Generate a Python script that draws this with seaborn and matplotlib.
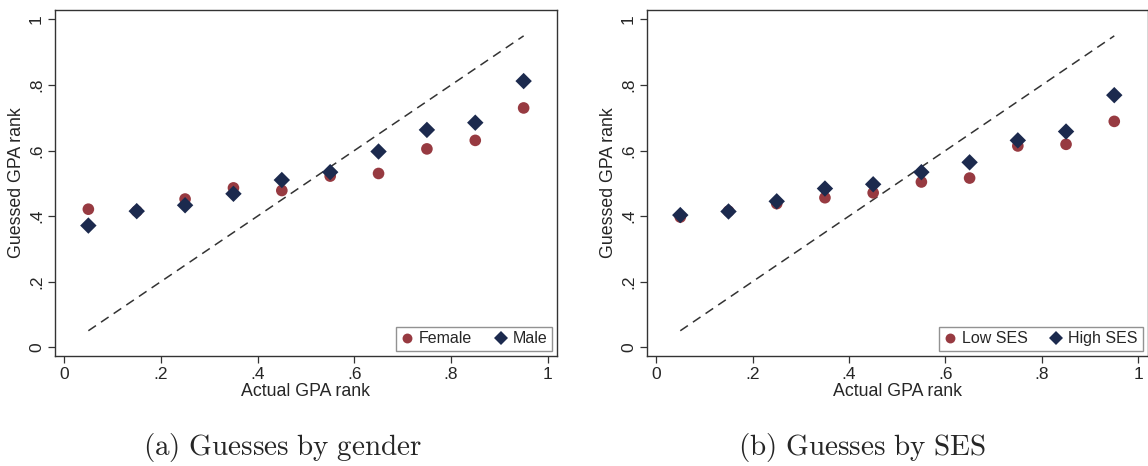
import numpy as np
import pandas as pd
import matplotlib
matplotlib.use("Agg")
import matplotlib.pyplot as plt
import seaborn as sns

sns.set_style("white")
plt.rcParams['font.family'] = ['Liberation Sans', 'DejaVu Sans']
plt.rcParams['mathtext.fontset'] = 'cm'

# Data
actual_rank = [0.05, 0.15, 0.25, 0.35, 0.45, 0.55, 0.65, 0.75, 0.85, 0.95]
female = [0.421, 0.415, 0.452, 0.486, 0.478, 0.522, 0.530, 0.605, 0.631, 0.730]
male = [0.371, 0.415, 0.433, 0.468, 0.510, 0.534, 0.597, 0.663, 0.685, 0.812]
low_ses = [0.397, 0.415, 0.438, 0.456, 0.471, 0.504, 0.516, 0.614, 0.619, 0.689]
high_ses = [0.403, 0.414, 0.445, 0.484, 0.497, 0.534, 0.564, 0.631, 0.658, 0.769]
diag = [0.05, 0.95]
tick_vals = [0, 0.2, 0.4, 0.6, 0.8, 1.0]
tick_labels = ["0", ".2", ".4", ".6", ".8", "1"]
captions = ["(a) Guesses by gender", "(b) Guesses by SES"]

RED = "#973a41"
NAVY = "#1c2a4e"

fig = plt.figure(figsize=(11.48, 4.66), dpi=100)
ax1 = fig.add_axes([0.0479, 0.2361, 0.4373, 0.7425])
ax2 = fig.add_axes([0.5636, 0.2361, 0.4360, 0.7425])

panels = [
    (ax1, female, male, "Female", "Male"),
    (ax2, low_ses, high_ses, "Low SES", "High SES"),
]

for i, (ax, s1, s2, n1, n2) in enumerate(panels):
    df = pd.DataFrame({
        "x": actual_rank * 2,
        "y": list(s1) + list(s2),
        "group": [n1] * len(s1) + [n2] * len(s2),
    })
    sns.lineplot(x=diag, y=diag, ax=ax, color="#333333", lw=1.1,
                 linestyle=(0, (6, 4)), legend=False)
    sns.scatterplot(data=df, x="x", y="y", hue="group", style="group",
                    palette={n1: RED, n2: NAVY},
                    markers={n1: "o", n2: "D"},
                    s=70, linewidth=0, ax=ax, zorder=3)
    ax.set_xlim(-0.019, 1.019)
    ax.set_ylim(-0.027, 1.029)
    ax.set_xticks(tick_vals)
    ax.set_xticklabels(tick_labels, fontsize=12.5)
    ax.set_yticks(tick_vals)
    ax.set_yticklabels(tick_labels, fontsize=12.5, rotation=90, va="center")
    ax.tick_params(axis="both", which="both", direction="out", length=5,
                   width=0.9, color="#333333", bottom=True, left=True, pad=3)
    ax.set_xlabel("Actual GPA rank", fontsize=12.8, labelpad=1)
    ax.set_ylabel("Guessed GPA rank", fontsize=12.8, labelpad=3)
    for sp in ax.spines.values():
        sp.set_color("#333333")
        sp.set_linewidth(1.0)
    handles, labels = ax.get_legend_handles_labels()
    leg = ax.legend(handles, labels, loc="lower right", ncol=2, fontsize=11.5,
                    frameon=True, fancybox=False, borderpad=0.3,
                    handletextpad=0.35, columnspacing=1.4, handlelength=0.8,
                    borderaxespad=0.3, markerscale=0.85)
    leg.get_frame().set_edgecolor("#777777")
    leg.get_frame().set_linewidth(1.0)
    txt = r"$\mathrm{" + captions[i].replace(" ", r"\ ") + "}$"
    fig.text(0.2465 if i == 0 else 0.751, 0.04, txt, ha="center",
             va="center", fontsize=21)

fig.savefig("out.png", dpi=100)
